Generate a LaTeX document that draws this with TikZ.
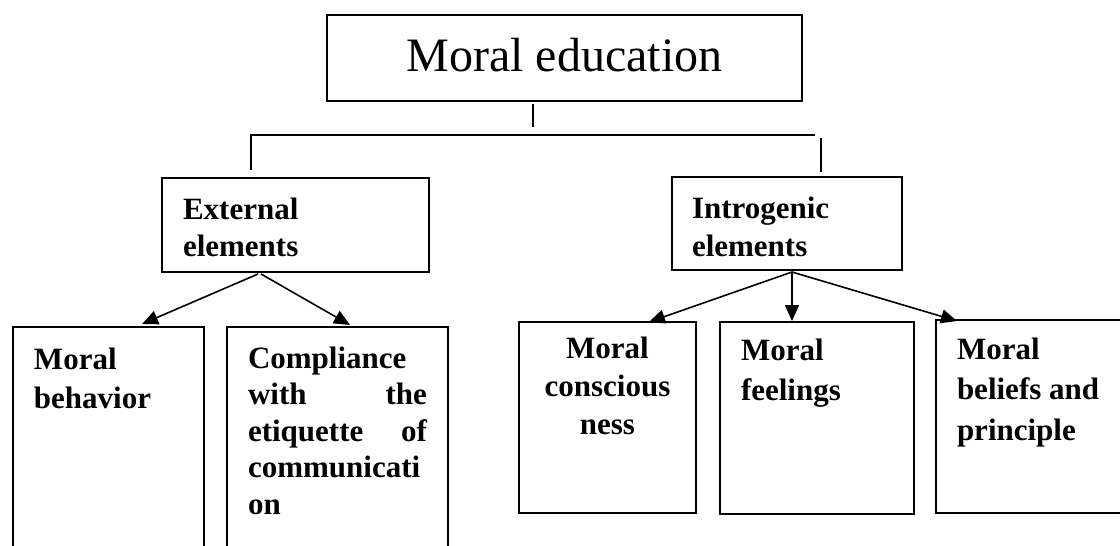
\documentclass[tikz,border=0pt]{standalone}
\usepackage{fontspec}
\setmainfont{Liberation Serif}
\usetikzlibrary{arrows.meta}
\begin{document}
\begin{tikzpicture}[x=1pt,y=-1pt,
  box/.style={draw, line width=2pt, rectangle, inner sep=0pt, outer sep=0pt, anchor=north west},
  lbl/.style={inner sep=0pt, outer sep=0pt, anchor=base west, font=\bfseries},
  conn/.style={line width=1.6pt},
  arr/.style={conn, -{Triangle[length=16pt,width=14pt]}}]
\useasboundingbox (0,0) rectangle (1120,546);
\fill[white] (0,0) rectangle (1120,546);
\clip (0,0) rectangle (1120,546);
% boxes
\node[box, minimum width=475pt, minimum height=86pt] (top) at (327,15) {};
\node[box, minimum width=267pt, minimum height=94pt] (ext) at (162,178) {};
\node[box, minimum width=230pt, minimum height=93pt] (intro) at (672,177) {};
\node[box, minimum width=191pt, minimum height=240pt] (beh) at (13,327) {};
\node[box, minimum width=221pt, minimum height=240pt] (comp) at (227,327) {};
\node[box, minimum width=177pt, minimum height=191pt] (consc) at (519,322) {};
\node[box, minimum width=194pt, minimum height=192pt] (feel) at (720,322) {};
\node[box, minimum width=200pt, minimum height=193pt] (bel) at (936,320) {};
% labels
\node[inner sep=0pt, anchor=base] (topL) at (564.5,71) {\fontsize{48}{58}\selectfont Moral education};
\node[lbl] (extL) at (183,219) {\parbox[t]{230pt}{\fontsize{31}{37}\selectfont External\\elements}};
\node[lbl] (introL) at (692,218) {\parbox[t]{200pt}{\fontsize{31}{38}\selectfont Introgenic\\elements}};
\node[lbl] (behL) at (34,369) {\parbox[t]{165pt}{\fontsize{31}{39}\selectfont Moral\\behavior}};
\node[lbl] (compL) at (248,368) {\parbox[t]{179pt}{\fontsize{31}{36.5}\selectfont Compliance\\\makebox[179pt][s]{with the}\\\makebox[179pt][s]{etiquette of}\\communicati\\on}};
\node[lbl, anchor=base] (conscL) at (607.5,358) {\parbox[t]{172pt}{\fontsize{31}{38}\selectfont\centering Moral\\conscious\\ness}};
\node[lbl] (feelL) at (741,360) {\parbox[t]{170pt}{\fontsize{31}{40}\selectfont Moral\\feelings}};
\node[lbl] (belL) at (957,359) {\parbox[t]{165pt}{\fontsize{31}{40.5}\selectfont Moral\\beliefs and\\principle}};
% tree lines
\coordinate (s1) at (533,104);
\coordinate (s2) at (533,127);
\coordinate (hl) at (251,135);
\coordinate (hr) at (815,135);
\coordinate (ld) at (251,170);
\coordinate (rt) at (821,138);
\coordinate (rd) at (821,172);
\draw[conn] (s1) -- (s2);
\draw[conn] (ld) -- (hl) -- (hr);
\draw[conn] (rt) -- (rd);
% arrows from External elements
\coordinate (eo1) at (258,274);
\coordinate (eo2) at (261,274);
\coordinate (et1) at (142,324);
\coordinate (et2) at (350,325);
\draw[arr] (eo1) -- (et1);
\draw[arr] (eo2) -- (et2);
% arrows from Introgenic elements
\coordinate (io) at (792,272);
\coordinate (it1) at (649,322);
\coordinate (it2) at (792,321);
\coordinate (it3) at (957,321);
\draw[arr] (io) -- (it1);
\draw[arr] (io) -- (it2);
\draw[arr] (io) -- (it3);
\end{tikzpicture}
\end{document}
